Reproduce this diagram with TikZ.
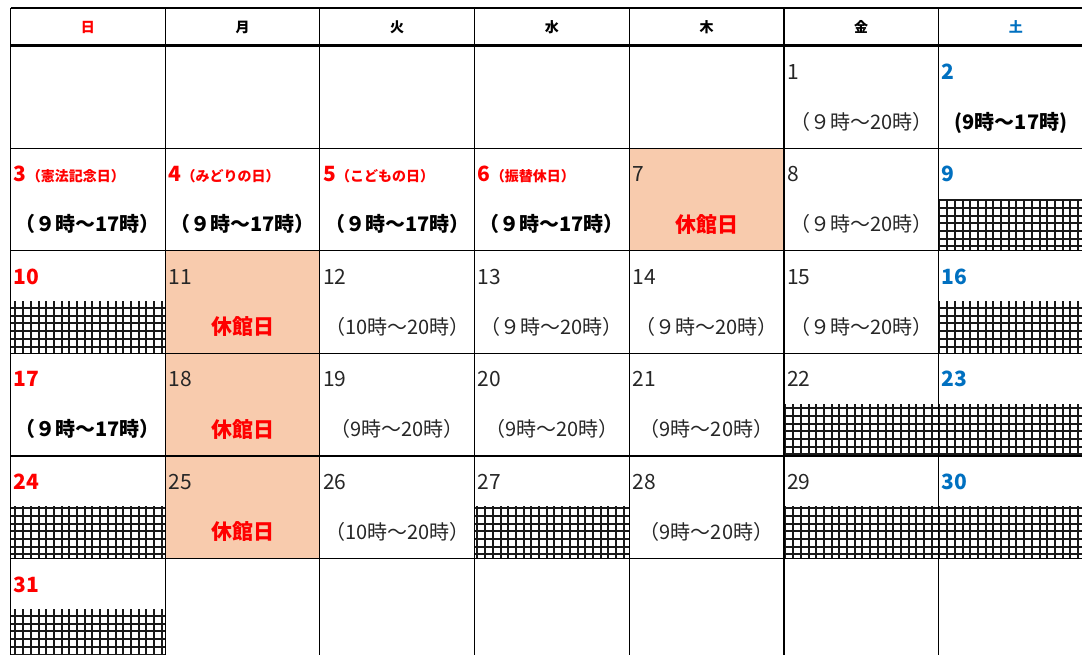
\documentclass[tikz,border=0pt]{standalone}
\usepackage{fontspec}
\setmainfont{Noto Sans CJK JP}
\usetikzlibrary{positioning}
\definecolor{holred}{HTML}{FF0000}
\definecolor{satblue}{HTML}{0070C0}
\definecolor{closedfill}{HTML}{F8CBAD}
\definecolor{plaintext}{HTML}{262626}

\begin{document}
\begin{tikzpicture}[x=1pt,y=-1pt,
    dayhead/.style={anchor=base,inner sep=0pt,font=\fontsize{14}{16}\selectfont\bfseries},
    daynum/.style={anchor=base west,inner sep=0pt,text=plaintext,font=\fontsize{21}{24}\selectfont},
    sunnum/.style={daynum,text=holred,font=\fontsize{21}{24}\selectfont\bfseries},
    satnum/.style={daynum,text=satblue,font=\fontsize{21}{24}\selectfont\bfseries},
    holname/.style={anchor=base west,inner sep=0pt,text=holred,font=\fontsize{14}{16}\selectfont\bfseries},
    hours/.style={anchor=base,inner sep=0pt,text=plaintext,font=\fontsize{20}{24}\selectfont},
    longhours/.style={hours,text=black,font=\fontsize{20}{24}\selectfont\bfseries},
    closed/.style={anchor=base,inner sep=0pt,text=holred,font=\fontsize{21}{24}\selectfont\bfseries},
    gridline/.style={line width=1.2pt},
    hatch/.style={line width=2pt,black!90}]
  \useasboundingbox (0,0) rectangle (1082,655);
  \clip (0,0) rectangle (1082,655);

  % closed days
  \fill[closedfill] (629.2,148.25) rectangle (783.9,250.8);
  \fill[closedfill] (165.2,250.8) rectangle (319.8,353.35);
  \fill[closedfill] (165.2,353.35) rectangle (319.8,455.9);
  \fill[closedfill] (165.2,455.9) rectangle (319.8,558.45);

  % hatched lower halves
  \foreach \hx/\hy in {938.5/148.25, 10.5/250.8, 938.5/250.8, 783.9/353.35, 938.5/353.35,
                       10.5/455.9, 474.5/455.9, 783.9/455.9, 938.5/455.9, 10.5/558.45} {
    \begin{scope}
      \clip (\hx,\hy+51) rectangle (\hx+154.67,\hy+102.55);
      \draw[hatch] (\hx-2,\hy+49) grid[step=7.7pt] (\hx+157,\hy+105);
    \end{scope}
  }

  % table rules
  \foreach \cx in {10.5,165.2,319.8,474.5,629.2,783.9,938.5}
    \draw[gridline] (\cx,8) -- (\cx,661);
  \foreach \ry in {8,148.25,250.8,353.35,455.9,558.45}
    \draw[gridline] (10.5,\ry) -- (1093,\ry);
  \draw[line width=2.4pt] (10.5,45.7) -- (1093,45.7);

  % weekday heads
  \node[dayhead,text=holred] (hd1) at (87.8,32.3) {日};
  \node[dayhead] (hd2) at (242.5,32.3) {月};
  \node[dayhead] (hd3) at (397.2,32.3) {火};
  \node[dayhead] (hd4) at (551.8,32.3) {水};
  \node[dayhead] (hd5) at (706.5,32.3) {木};
  \node[dayhead] (hd6) at (861.2,32.3) {金};
  \node[dayhead,text=satblue] (hd7) at (1015.8,32.3) {土};

  % week 1
  \node[daynum] (d1) at (786.9,79.3) {1};
  \node[hours] (hr1) at (861.2,129.3) {（９時～20時）};
  \node[satnum] (d2) at (941.5,79.3) {2};
  \node[longhours] (hr2) at (1011,129.3) {(9時～17時)};

  % week 2
  \node[sunnum] (d3) at (13.5,181.85) {3};
  \node[holname] (hn3) at (d3.base east) {（憲法記念日）};
  \node[longhours] (hr3) at (87.8,231.85) {（９時～17時）};
  \node[sunnum] (d4) at (168.2,181.85) {4};
  \node[holname] (hn4) at (d4.base east) {（みどりの日）};
  \node[longhours] (hr4) at (242.5,231.85) {（９時～17時）};
  \node[sunnum] (d5) at (322.8,181.85) {5};
  \node[holname] (hn5) at (d5.base east) {（こどもの日）};
  \node[longhours] (hr5) at (397.2,231.85) {（９時～17時）};
  \node[sunnum] (d6) at (477.5,181.85) {6};
  \node[holname] (hn6) at (d6.base east) {（振替休日）};
  \node[longhours] (hr6) at (551.8,231.85) {（９時～17時）};
  \node[daynum] (d7) at (632.2,181.85) {7};
  \node[closed] (cl7) at (706.5,232.3) {休館日};
  \node[daynum] (d8) at (786.9,181.85) {8};
  \node[hours] (hr8) at (861.2,231.85) {（９時～20時）};
  \node[satnum] (d9) at (941.5,181.85) {9};

  % week 3
  \node[sunnum] (d10) at (13.5,284.4) {10};
  \node[daynum] (d11) at (168.2,284.4) {11};
  \node[closed] (cl11) at (242.5,334.85) {休館日};
  \node[daynum] (d12) at (322.8,284.4) {12};
  \node[hours] (hr12) at (397.2,334.4) {（10時～20時）};
  \node[daynum] (d13) at (477.5,284.4) {13};
  \node[hours] (hr13) at (551.8,334.4) {（９時～20時）};
  \node[daynum] (d14) at (632.2,284.4) {14};
  \node[hours] (hr14) at (706.5,334.4) {（９時～20時）};
  \node[daynum] (d15) at (786.9,284.4) {15};
  \node[hours] (hr15) at (861.2,334.4) {（９時～20時）};
  \node[satnum] (d16) at (941.5,284.4) {16};

  % week 4
  \node[sunnum] (d17) at (13.5,386.95) {17};
  \node[longhours] (hr17) at (87.8,436.95) {（９時～17時）};
  \node[daynum] (d18) at (168.2,386.95) {18};
  \node[closed] (cl18) at (242.5,437.4) {休館日};
  \node[daynum] (d19) at (322.8,386.95) {19};
  \node[hours] (hr19) at (397.2,436.95) {（9時～20時）};
  \node[daynum] (d20) at (477.5,386.95) {20};
  \node[hours] (hr20) at (551.8,436.95) {（9時～20時）};
  \node[daynum] (d21) at (632.2,386.95) {21};
  \node[hours] (hr21) at (706.5,436.95) {（9時～20時）};
  \node[daynum] (d22) at (786.9,386.95) {22};
  \node[satnum] (d23) at (941.5,386.95) {23};

  % week 5
  \node[sunnum] (d24) at (13.5,489.5) {24};
  \node[daynum] (d25) at (168.2,489.5) {25};
  \node[closed] (cl25) at (242.5,539.95) {休館日};
  \node[daynum] (d26) at (322.8,489.5) {26};
  \node[hours] (hr26) at (397.2,539.5) {（10時～20時）};
  \node[daynum] (d27) at (477.5,489.5) {27};
  \node[daynum] (d28) at (632.2,489.5) {28};
  \node[hours] (hr28) at (706.5,539.5) {（9時～20時）};
  \node[daynum] (d29) at (786.9,489.5) {29};
  \node[satnum] (d30) at (941.5,489.5) {30};

  % week 6
  \node[sunnum] (d31) at (13.5,592.05) {31};
\end{tikzpicture}
\end{document}
